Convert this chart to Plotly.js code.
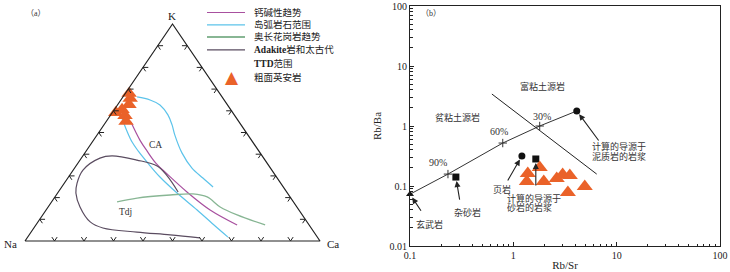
<!DOCTYPE html>
<html><head><meta charset="utf-8">
<script src="https://cdn.plot.ly/plotly-3.0.1.min.js"></script>
<style>html,body{margin:0;padding:0;background:#fff}#chart{width:730px;height:272px}</style>
</head><body><div id="chart"></div>
<script>
// ===== Panel (a): K–Na–Ca ternary, compositions in % (K, Na, Ca) =====
const vertexLabels = ['K', 'Na', 'Ca'];
const caTrendK  = [54.8, 46.5, 41.5, 35.9, 30.9, 22.6, 14.3, 7.4];
const caTrendNa = [36.7, 37.8, 37.9, 37.7, 36.4, 33.8, 30.1, 24.4];
const caTrendCa = [8.5, 15.7, 20.6, 26.4, 32.7, 43.6, 55.6, 68.2];

const arcOuterK  = [66.4, 65.0, 62.7, 58.1, 53.5, 48.8, 40.6, 33.6, 29.0, 24.9];
const arcOuterNa = [28.8, 25.1, 22.9, 22.5, 23.4, 24.8, 26.5, 26.6, 25.2, 23.8];
const arcOuterCa = [4.8, 9.9, 14.4, 19.4, 23.1, 26.4, 32.9, 39.8, 45.8, 51.3];

const arcInnerK  = [56.7, 50.7, 45.6, 41.5, 35.9, 29.5, 22.1, 14.3, 6.9, 1.8];
const arcInnerNa = [38.8, 40.1, 40.9, 40.9, 40.4, 39.5, 37.4, 34.5, 32.1, 30.3];
const arcInnerCa = [4.5, 9.2, 13.5, 17.6, 23.7, 31.0, 40.5, 51.2, 61.0, 67.9];

const tdjK  = [18.0, 19.8, 21.2, 21.7, 20.3, 15.7, 12.0, 7.4];
const tdjNa = [59.8, 52.1, 40.2, 32.2, 28.1, 26.0, 22.1, 14.9];
const tdjCa = [22.2, 28.1, 38.6, 46.1, 51.6, 58.3, 65.9, 77.7];

const adakK  = [22.6, 30.0, 34.6, 37.3, 39.2, 38.2, 32.7, 26.7, 22.1, 15.7, 8.8, 6.0, 4.1, 2.8, 1.4];
const adakNa = [36.8, 36.8, 37.9, 43.4, 50.9, 55.5, 64.0, 69.0, 71.7, 73.5, 73.5, 70.6, 60.0, 49.4, 40.0];
const adakCa = [40.6, 33.2, 27.5, 19.3, 9.9, 6.3, 3.3, 4.3, 6.2, 10.8, 17.7, 23.4, 35.9, 47.8, 58.6];

const sampleK  = [68.0, 65.7, 62.9, 59.2, 60.6, 57.8, 55.1];
const sampleNa = [30.7, 31.5, 33.3, 39.6, 36.8, 37.2, 38.2];
const sampleCa = [1.3, 2.8, 3.8, 1.2, 2.6, 5.0, 6.7];

const legendLabels = ['钙碱性趋势', '岛弧岩石范围', '奥长花岗岩趋势', '<b>Adakite</b>岩和太古代', '<b>TTD</b>范围', '粗面英安岩'];

// ===== Panel (b): Rb/Sr vs Rb/Ba =====
const sampleRbSr = [1.38, 1.80, 1.35, 1.97, 2.63, 3.00, 3.52, 3.37, 4.91];
const sampleRbBa = [0.161, 0.203, 0.119, 0.119, 0.133, 0.156, 0.149, 0.078, 0.098];

const mixRbSr = [0.1, 0.233, 0.79, 1.80, 4.11];
const mixRbBa = [0.073, 0.158, 0.52, 1.00, 1.78];
const mixLabels = ['', '90%', '60%', '30%', ''];

const clayRbSr = [0.62, 6.41];
const clayRbBa = [3.41, 0.158];

const endNames = ['玄武岩', '杂砂岩', '页岩', '计算的导源于砂岩的岩浆', '计算的导源于泥质岩的岩浆'];
const endRbSr = [0.1, 0.278, 1.21, 1.65, 4.11];
const endRbBa = [0.073, 0.141, 0.316, 0.282, 1.78];
const endSymbols = ['triangle-up', 'square', 'circle', 'square', 'circle'];

const xTickVals = [0.1, 1, 10, 100];
const yTickVals = [0.01, 0.1, 1, 10, 100];

// ---------- helpers ----------
const serif = '"Liberation Serif", "Noto Sans CJK SC", serif';
const W = 730, H = 272;
function tern(K, Na, Ca) { const s = K + Na + Ca; const k = K / s, c = Ca / s; return [c + k / 2, k]; }
function ternXY(Ks, Nas, Cas) {
  const x = [], y = [];
  Ks.forEach((k, i) => { const p = tern(k, Nas[i], Cas[i]); x.push(p[0]); y.push(p[1]); });
  return { x, y };
}
function P(px, py) { return { x: px / W, y: 1 - py / H, xref: 'paper', yref: 'paper' }; }

const cMag = '#a8509f', cCyan = '#5cc3ea', cGreen = '#88b694', cAdak = '#5a4c60', cOrange = '#ea6229';

const traces = [];
function ternLine(K, Na, Ca, color, width) {
  const p = ternXY(K, Na, Ca);
  traces.push({ type: 'scatter', mode: 'lines', x: p.x, y: p.y, xaxis: 'x2', yaxis: 'y2',
    line: { color, width, shape: 'spline', smoothing: 1 }, hoverinfo: 'skip', showlegend: false });
}
ternLine(arcOuterK, arcOuterNa, arcOuterCa, cCyan, 1.2);
ternLine(arcInnerK, arcInnerNa, arcInnerCa, cCyan, 1.2);
ternLine(caTrendK, caTrendNa, caTrendCa, cMag, 1.2);
ternLine(tdjK, tdjNa, tdjCa, cGreen, 1.3);
ternLine(adakK, adakNa, adakCa, cAdak, 1.2);

const sp = ternXY(sampleK, sampleNa, sampleCa);
traces.push({ type: 'scatter', mode: 'markers', x: sp.x, y: sp.y, xaxis: 'x2', yaxis: 'y2',
  marker: { symbol: 'triangle-up', size: 13.5, color: cOrange, line: { width: 0 } }, showlegend: false, cliponaxis: false });

// triangle frame
const fr = ternXY([0, 0, 100, 0], [100, 0, 0, 100], [0, 100, 0, 0]);
traces.push({ type: 'scatter', mode: 'lines', x: fr.x, y: fr.y, xaxis: 'x2', yaxis: 'y2',
  line: { color: '#222', width: 1.2 }, hoverinfo: 'skip', showlegend: false });
// edge ticks at 10 % steps
const tx = [], ty = [], t = 1.8;
function seg(a, b) { const p = tern(...a), q = tern(...b); tx.push(p[0], q[0], null); ty.push(p[1], q[1], null); }
for (let i = 1; i <= 9; i++) {
  const f = i * 10;
  seg([0, 100 - f, f], [t, 100 - f - t, f]); seg([0, 100 - f, f], [t, 100 - f, f - t]);       // bottom
  seg([f, 100 - f, 0], [f, 100 - f - t, t]); seg([f, 100 - f, 0], [f - t, 100 - f, t]);       // left
  seg([f, 0, 100 - f], [f, t, 100 - f - t]); seg([f, 0, 100 - f], [f - t, t, 100 - f]);       // right
}
traces.push({ type: 'scatter', mode: 'lines', x: tx, y: ty, xaxis: 'x2', yaxis: 'y2',
  line: { color: '#222', width: 1 }, hoverinfo: 'skip', showlegend: false });

// ---- panel (b) traces ----
traces.push({ type: 'scatter', mode: 'lines', x: clayRbSr, y: clayRbBa, line: { color: '#222', width: 1 }, showlegend: false });
traces.push({ type: 'scatter', mode: 'lines', x: mixRbSr, y: mixRbBa, line: { color: '#333', width: 1 }, showlegend: false });
traces.push({ type: 'scatter', mode: 'markers', x: mixRbSr.slice(1, 4), y: mixRbBa.slice(1, 4),
  marker: { symbol: 'cross-thin', size: 6, line: { color: '#333', width: 1 } }, showlegend: false });
traces.push({ type: 'scatter', mode: 'markers', x: endRbSr, y: endRbBa, text: endNames,
  marker: { symbol: endSymbols, size: 7, color: '#111' }, showlegend: false, cliponaxis: false });
traces.push({ type: 'scatter', mode: 'markers', x: sampleRbSr, y: sampleRbBa,
  marker: { symbol: 'triangle-up', size: 14, color: cOrange }, showlegend: false });

// ---------- annotations ----------
const ann = [];
function txt(px, py, text, size, opts) {
  ann.push(Object.assign(P(px, py), { text, showarrow: false, xanchor: 'center', yanchor: 'middle',
    font: { family: serif, size: size || 9.5, color: '#333' } }, opts || {}));
}
// panel (a)
txt(172, 16, vertexLabels[0], 11, { font: { family: serif, size: 11, color: '#222' } });
txt(10, 244, vertexLabels[1], 11, { font: { family: serif, size: 11, color: '#222' } });
txt(333, 244, vertexLabels[2], 11, { font: { family: serif, size: 11, color: '#222' } });
txt(36, 13, '（a）', 8);
txt(155, 145, 'CA', 9.5);
txt(125, 212, 'Tdj', 9.5);
// legend (a)
const legColors = [cMag, cCyan, cGreen, cAdak];
const legWidths = [1.2, 1.2, 2.2, 1.2];
const legRowY = [12.5, 24.8, 37, 49.8, 63, 77];
const shapes = [];
legColors.forEach((c, i) => {
  shapes.push({ type: 'line', xref: 'paper', yref: 'paper', x0: 207 / W, x1: 245 / W,
    y0: 1 - legRowY[i] / H, y1: 1 - legRowY[i] / H, line: { color: c, width: legWidths[i] } });
});
legendLabels.forEach((l, i) => txt(252, legRowY[i], l, 9, { xanchor: 'left', font: { family: serif, size: 9.5, color: '#222' } }));
txt(232, 77, '▲', 17, { font: { family: 'DejaVu Sans', size: 17, color: cOrange } });

// panel (b)
txt(431, 13, '（b）', 8);
txt(542, 86, '富粘土源岩', 9);
txt(457, 117, '贫粘土源岩', 9);
txt(438, 162, mixLabels[1], 10);
txt(499, 131, mixLabels[2], 10);
txt(542, 116, mixLabels[3], 10);
txt(429, 224, endNames[0], 9);
txt(467, 212, endNames[1], 9);
txt(502, 189, endNames[2], 9);
txt(505, 198, '计算的导源于', 9, { xanchor: 'left' });
txt(505, 207, '砂岩的岩浆', 9, { xanchor: 'left' });
txt(590, 146, '计算的导源于', 9, { xanchor: 'left' });
txt(590, 156, '泥质岩的岩浆', 9, { xanchor: 'left' });
const arrowOff = [[12, 18], [4, 24], [-15, 26], [0, 28], [23, 31]];
endRbSr.forEach((v, i) => {
  ann.push({ x: Math.log10(v), y: Math.log10(endRbBa[i]), xref: 'x', yref: 'y', text: '', showarrow: true,
    ax: arrowOff[i][0], ay: arrowOff[i][1], arrowhead: 2, arrowsize: 1.1, arrowwidth: 1.1, arrowcolor: '#222',
    standoff: 4, startstandoff: 0 });
});

const axCommon = { type: 'log', dtick: 1, ticks: 'inside', ticklen: 4, tickcolor: '#222', showline: true, mirror: true,
  linecolor: '#222', linewidth: 1, showgrid: false, zeroline: false,
  tickfont: { family: serif, size: 10, color: '#222' },
  minor: { ticks: 'inside', ticklen: 2.5, dtick: 'D1', tickcolor: '#222', showgrid: false } };

const layout = {
  width: W, height: H, margin: { l: 0, r: 0, t: 0, b: 0 },
  paper_bgcolor: '#fff', plot_bgcolor: 'rgba(0,0,0,0)', showlegend: false,
  xaxis: Object.assign({}, axCommon, { domain: [410 / W, 720 / W], range: [-1, 2], tickvals: xTickVals,
    title: { text: 'Rb/Sr', font: { family: serif, size: 11, color: '#222' }, standoff: 1 } }),
  yaxis: Object.assign({}, axCommon, { domain: [26 / H, 266 / H], range: [-2, 2], tickvals: yTickVals,
    title: { text: 'Rb/Ba', font: { family: serif, size: 11, color: '#222' }, standoff: 5 } }),
  xaxis2: { domain: [(25 - 0.05 * 295) / W, (320 + 0.05 * 295) / W], range: [-0.05, 1.05], visible: false, fixedrange: true },
  yaxis2: { domain: [(H - 241 - 0.05 * 217) / H, (H - 24 + 0.05 * 217) / H], range: [-0.05, 1.05], visible: false, fixedrange: true },
  annotations: ann, shapes
};
Plotly.newPlot('chart', traces, layout, { staticPlot: true, displayModeBar: false });
</script></body></html>
